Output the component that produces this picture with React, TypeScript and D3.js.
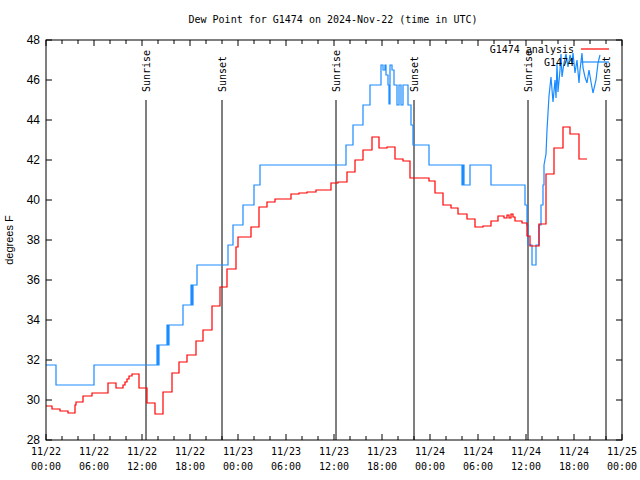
import React from "react";
import * as d3 from "d3";

// hours since 2024-11-22 00:00 UTC
const obsHours = [0, 1.25, 6, 13.875, 14, 14.125, 15.125, 15.25, 15.375, 17.125, 18.125, 18.25, 18.375, 18.875, 22.75, 23.375, 24.625, 26, 26.75, 37.5, 38.375, 39.625, 40.5, 41.875, 42.125, 42.375, 42.5, 42.75, 42.875, 43, 43.25, 43.5, 43.875, 44.125, 44.375, 44.625, 45.25, 45.625, 45.875, 47.875, 52, 52.125, 52.25, 53, 55.625, 59.875, 60.125, 60.25, 60.75, 61.25, 61.625, 61.875, 62.125, 62.25, 62.5, 62.625, 62.875, 63.125, 63.375, 63.625, 63.75, 63.875, 64, 64.25, 64.375, 64.5, 64.75, 65, 65.25, 65.5, 65.75, 65.875, 66.125, 66.375, 66.625, 66.75, 67, 67.125, 67.375, 67.625, 67.875, 68.125, 68.375, 68.75, 69, 69.25];
const obsValues = [31.75, 30.75, 31.75, 32.75, 31.75, 32.75, 33.75, 32.75, 33.75, 34.75, 35.75, 34.75, 35.75, 36.75, 37.75, 38.75, 39.75, 40.75, 41.75, 42.75, 43.75, 44.75, 45.75, 46.75, 46.5, 46.75, 46.25, 45.75, 44.8, 46.75, 46.5, 45.75, 44.75, 45.75, 44.75, 45.75, 44.75, 43.75, 42.75, 41.75, 40.75, 41.75, 40.75, 41.75, 40.75, 39.75, 38.75, 37.75, 36.75, 37.75, 38.75, 39.75, 40.75, 41.75, 42.3, 43.5, 45.2, 46.15, 44.9, 46, 45.1, 46.85, 45.4, 46.5, 47.3, 46.15, 46.85, 47.3, 46.65, 47.25, 46.85, 47.35, 46.35, 47, 45.85, 46.5, 47.35, 46.6, 46.15, 45.85, 46.5, 45.9, 45.35, 46, 46.85, 47.25];

const anaHours = [0, 0.75, 1.75, 2.75, 3.625, 3.75, 4.625, 5.75, 7.75, 8.75, 9.625, 9.875, 10.125, 10.375, 10.75, 11.625, 12.625, 13.625, 14.625, 15.75, 16.625, 17.625, 18.75, 19.625, 20.75, 21.75, 22.625, 23.75, 24, 25.625, 26.625, 27.625, 28.625, 30.625, 31.625, 32.625, 33.75, 35.625, 36.5, 37.625, 38.625, 39.625, 40.75, 41.625, 42.625, 43.625, 44.625, 45.5, 47.875, 48.625, 49.625, 50.625, 51.5, 52.625, 53.625, 54.625, 55.625, 56.5, 57.25, 57.625, 57.875, 58.125, 58.375, 58.625, 59.5, 60.125, 60.5, 61.625, 62.5, 63.5, 64.625, 65.5, 66.625, 67.625];
const anaValues = [29.7, 29.55, 29.45, 29.35, 29.75, 29.9, 30.2, 30.35, 30.85, 30.6, 30.75, 30.9, 31.05, 31.2, 31.3, 30.6, 29.85, 29.3, 30.4, 31.35, 31.9, 32.25, 32.95, 33.5, 34.7, 35.65, 36.55, 37.65, 38.15, 38.65, 39.65, 39.9, 40.05, 40.3, 40.35, 40.4, 40.5, 40.85, 40.9, 41.4, 42, 42.5, 43.15, 42.6, 42.65, 42.05, 41.95, 41.1, 40.95, 40.35, 39.75, 39.6, 39.3, 39.05, 38.65, 38.7, 38.95, 39.2, 39.1, 39.25, 39.1, 39.3, 39.15, 38.95, 38.85, 38.2, 37.7, 38.8, 41.3, 42.6, 43.65, 43.3, 42.05, 42.05];

const sunHours = [12.5, 22, 36.25, 46, 60.25, 70];
const sunLabels = ["Sunrise", "Sunset", "Sunrise", "Sunset", "Sunrise", "Sunset"];

const xTickHours = [0, 6, 12, 18, 24, 30, 36, 42, 48, 54, 60, 66, 72];
const xTickDates = ["11/22", "11/22", "11/22", "11/22", "11/23", "11/23", "11/23", "11/23", "11/24", "11/24", "11/24", "11/24", "11/25"];
const xTickTimes = ["00:00", "06:00", "12:00", "18:00", "00:00", "06:00", "12:00", "18:00", "00:00", "06:00", "12:00", "18:00", "00:00"];
const yTicks = [28, 30, 32, 34, 36, 38, 40, 42, 44, 46, 48];

const BLUE = "#1a8cff";
const RED = "#ff0000";
const MONO = "'DejaVu Sans Mono', monospace";
const SANS = "'Liberation Sans', Arial, sans-serif";

export default function App() {
  const W = 640, H = 480;
  const L = 46, R = 622, T = 40, B = 440;
  const x = d3.scaleLinear().domain([0, 72]).range([L, R]);
  const y = d3.scaleLinear().domain([28, 48]).range([B, T]);

  const stepLine = d3.line<[number, number]>()
    .x(d => x(d[0]))
    .y(d => y(d[1]))
    .curve(d3.curveStepAfter);
  const linLine = d3.line<[number, number]>()
    .x(d => x(d[0]))
    .y(d => y(d[1]));

  const obsPts = obsHours.map((h, i) => [h, obsValues[i]] as [number, number]);
  const split = obsHours.indexOf(62.25);
  const obsStep = obsPts.slice(0, split + 2);
  const obsLin = obsPts.slice(split);
  const anaPts = anaHours.map((h, i) => [h, anaValues[i]] as [number, number]);

  const minorX = d3.range(0, 73, 2);

  return (
    <svg width={W} height={H} style={{ position: "absolute", left: 0, top: 0, background: "#fff" }}>
      <rect x={0} y={0} width={W} height={H} fill="#fff" />
      <text x={333} y={23} textAnchor="middle" fontFamily={MONO} fontSize={10} fill="#000">
        Dew Point for G1474 on 2024-Nov-22 (time in UTC)
      </text>

      {yTicks.map(v => (
        <g key={"y" + v}>
          <line x1={L} x2={L + 6} y1={y(v)} y2={y(v)} stroke="#000" />
          <line x1={R - 6} x2={R} y1={y(v)} y2={y(v)} stroke="#000" />
          <text x={40} y={y(v) + 4} textAnchor="end" fontFamily={SANS} fontSize={12} fill="#000">{v}</text>
        </g>
      ))}
      <text transform={`translate(13,${240}) rotate(-90)`} textAnchor="middle" fontFamily={SANS} fontSize={11} fill="#000">degrees F</text>

      {minorX.map(h => (
        <g key={"xt" + h}>
          <line x1={x(h)} x2={x(h)} y1={B} y2={B - (h % 6 === 0 ? 6 : 4)} stroke="#000" />
          <line x1={x(h)} x2={x(h)} y1={T} y2={T + (h % 6 === 0 ? 6 : 4)} stroke="#000" />
        </g>
      ))}
      {xTickHours.map((h, i) => (
        <g key={"xl" + h}>
          <text x={x(h)} y={455} textAnchor="middle" fontFamily={MONO} fontSize={10} fill="#000">{xTickDates[i]}</text>
          <text x={x(h)} y={470} textAnchor="middle" fontFamily={MONO} fontSize={10} fill="#000">{xTickTimes[i]}</text>
        </g>
      ))}

      {sunHours.map((h, i) => (
        <g key={"s" + i}>
          <line x1={x(h)} x2={x(h)} y1={100} y2={B} stroke="#000" strokeWidth={1} />
          <text transform={`translate(${x(h) + 4},92) rotate(-90)`} textAnchor="start" fontFamily={MONO} fontSize={10} fill="#000">{sunLabels[i]}</text>
        </g>
      ))}

      <path d={stepLine(obsStep.slice(0, split + 1)) ?? ""} fill="none" stroke={BLUE} strokeWidth={1.2} />
      <path d={linLine(obsLin) ?? ""} fill="none" stroke={BLUE} strokeWidth={1.2} />
      <path d={stepLine(anaPts) ?? ""} fill="none" stroke={RED} strokeWidth={1.2} />

      <text x={574} y={53} textAnchor="end" fontFamily={MONO} fontSize={10} fill="#000">G1474 analysis</text>
      <line x1={581} x2={609} y1={49} y2={49} stroke={RED} strokeWidth={1.2} />
      <text x={574} y={66} textAnchor="end" fontFamily={MONO} fontSize={10} fill="#000">G1474</text>
      <line x1={581} x2={609} y1={62} y2={62} stroke={BLUE} strokeWidth={1.2} />

      <rect x={L} y={T} width={R - L} height={B - T} fill="none" stroke="#000" strokeWidth={1} />
    </svg>
  );
}
